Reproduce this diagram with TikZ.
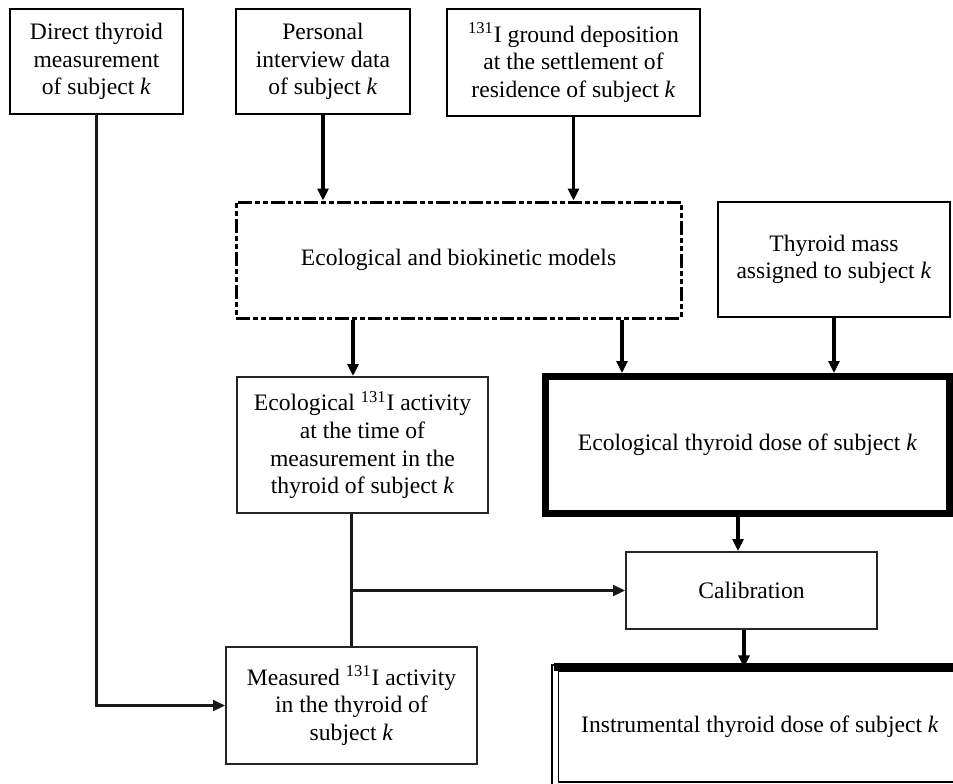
\documentclass[tikz,border=0pt]{standalone}
\usepackage{fontspec}
\setmainfont{Liberation Serif}
\usepackage{tikz}
\usetikzlibrary{arrows.meta}
\usetikzlibrary{calc,positioning}

\tikzset{
  box/.style={draw,line width=1.4pt,align=center,inner sep=0pt,
    font=\fontsize{11.8}{13.8}\selectfont},
  thinbox/.style={box,line width=1pt,draw=black!85},
  modelbox/.style={box,line width=1.5pt,
    dash pattern=on 7pt off 1.5pt on 2.5pt off 1.5pt on 2.5pt off 1.5pt},
  arr/.style={-{Triangle[width=5.5pt,length=6pt]},line width=1.7pt},
  fatarr/.style={arr,line width=2.4pt},
  link/.style={line width=1.1pt,draw=black!90}
}

\begin{document}
\begin{tikzpicture}[x=0.5pt,y=-0.5pt]
        \useasboundingbox (0,0) rectangle (953,783);

        % inputs
        \node[box,minimum width=86.5pt,minimum height=52.5pt] (direct) at (96.5,61.5)
          {Direct thyroid\\measurement\\of subject \textit{k}};
        \node[box,minimum width=87pt,minimum height=52.5pt] (interview) at (323,61.5)
          {Personal\\interview data\\of subject \textit{k}};
        \node[box,minimum width=126.5pt,minimum height=53.5pt] (deposit) at (573.5,62.5)
          {\textsuperscript{131}I ground deposition\\at the settlement of\\residence of subject \textit{k}};

        \node[modelbox,minimum width=222.5pt,minimum height=58pt] (models) at (458.5,260)
          {Ecological and biokinetic models};
        \node[box,minimum width=116pt,minimum height=57.5pt] (mass) at (834,259.5)
          {Thyroid mass\\assigned to subject \textit{k}};

        \node[thinbox,minimum width=125.5pt,minimum height=68pt] (ecoact) at (362.5,445)
          {Ecological \textsuperscript{131}I activity\\at the time of\\measurement in the\\thyroid of subject \textit{k}};
        \node[box,line width=3.5pt,minimum width=202pt,minimum height=68.5pt] (ecodose) at (747.5,445)
          {Ecological thyroid dose of subject \textit{k}};

        \node[thinbox,minimum width=125.5pt,minimum height=38.5pt] (calib) at (751.5,590.5)
          {Calibration};
        \node[thinbox,minimum width=125.5pt,minimum height=58.5pt] (measact) at (351.5,705.5)
          {Measured \textsuperscript{131}I activity\\in the thyroid of\\subject \textit{k}};
        \node[box,line width=0.6pt,double,double distance=2.5pt,
          minimum width=205pt,minimum height=58.5pt] (instdose) at (760,726.5)
          {Instrumental thyroid dose of subject \textit{k}};
        \draw[line width=4pt] (instdose.north west) -- (instdose.north east);

        \coordinate (toF) at (353,0);
        \coordinate (toG) at (622,0);
        \coordinate (toH) at (738,0);
        \coordinate (toJ) at (744,0);

        \draw[arr] (interview.south) -- (interview.south |- models.north);
        \draw[arr] (deposit.south) -- (deposit.south |- models.north);
        \draw[arr] (models.south -| toF) -- (ecoact.north -| toF);
        \draw[fatarr] (models.south -| toG) -- (ecodose.north -| toG);
        \draw[arr] (mass.south) -- (mass.south |- ecodose.north);
        \draw[fatarr] (ecodose.south -| toH) -- (calib.north -| toH);
        \draw[arr] (calib.south -| toJ) -- (instdose.north -| toJ);

        \draw[link] (ecoact.south -| measact.north) -- (measact.north);
        \draw[link,-{Triangle[width=5.5pt,length=6pt]}] (calib.west -| measact.north) -- (calib.west);
        \draw[link,-{Triangle[width=5.5pt,length=6pt]}] (direct.south) |- (measact.west);
      \end{tikzpicture}
\end{document}
